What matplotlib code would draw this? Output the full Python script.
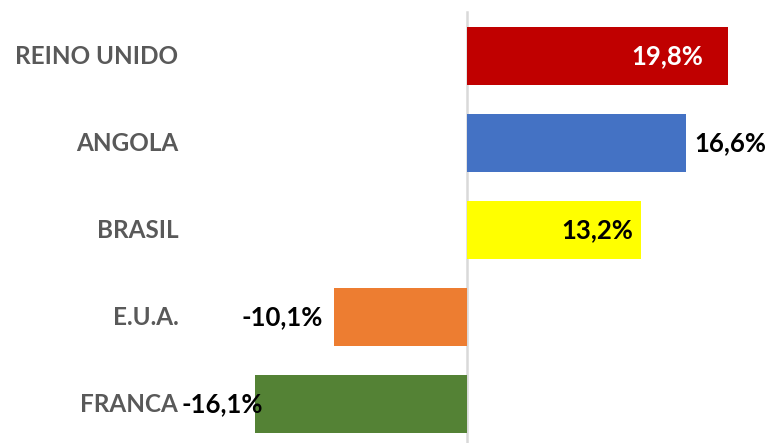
import matplotlib
matplotlib.use("Agg")
import matplotlib.pyplot as plt

countries = ["REINO UNIDO", "ANGOLA", "BRASIL", "E.U.A.", "FRANCA"]
changes = [19.8, 16.6, 13.2, -10.1, -16.1]
colors = ["#C00000", "#4472C4", "#FFFF00", "#ED7D31", "#548235"]
label_colors = ["white", "black", "black", "black", "black"]

# label placement relative to the bar end: (pixel offset, alignment)
label_place = [(-25, "right"), (9, "left"), (-8, "right"), (-11, "right"), (8, "right")]

plt.rcParams["font.family"] = ["Lato", "DejaVu Sans"]

fig = plt.figure(figsize=(7.69, 4.43), dpi=100)
ax = fig.add_axes([0, 0, 1, 1])

ypos = list(range(len(countries)))
ax.barh(ypos, changes, height=0.665, color=colors, zorder=2)

ax.set_xlim(-35.43, 22.91)
ax.set_ylim(4.443, -0.643)
ax.axis("off")
ax.plot([0, 0], [4.443, -0.5], color="#D9D9D9", lw=1.8, zorder=1)

for y, name in zip(ypos, countries):
    ax.text(-21.9, y, name, ha="right", va="center", fontsize=17.5,
            fontweight="bold", color="#595959")

for y, v, (dx, ha), c in zip(ypos, changes, label_place, label_colors):
    txt = f"{v:.1f}%".replace(".", ",")
    ax.annotate(txt, (v, y), xytext=(dx, 0), textcoords="offset pixels",
                ha=ha, va="center", fontsize=18.5, fontweight="bold", color=c,
                zorder=3)

fig.savefig("out.png", dpi=100)
